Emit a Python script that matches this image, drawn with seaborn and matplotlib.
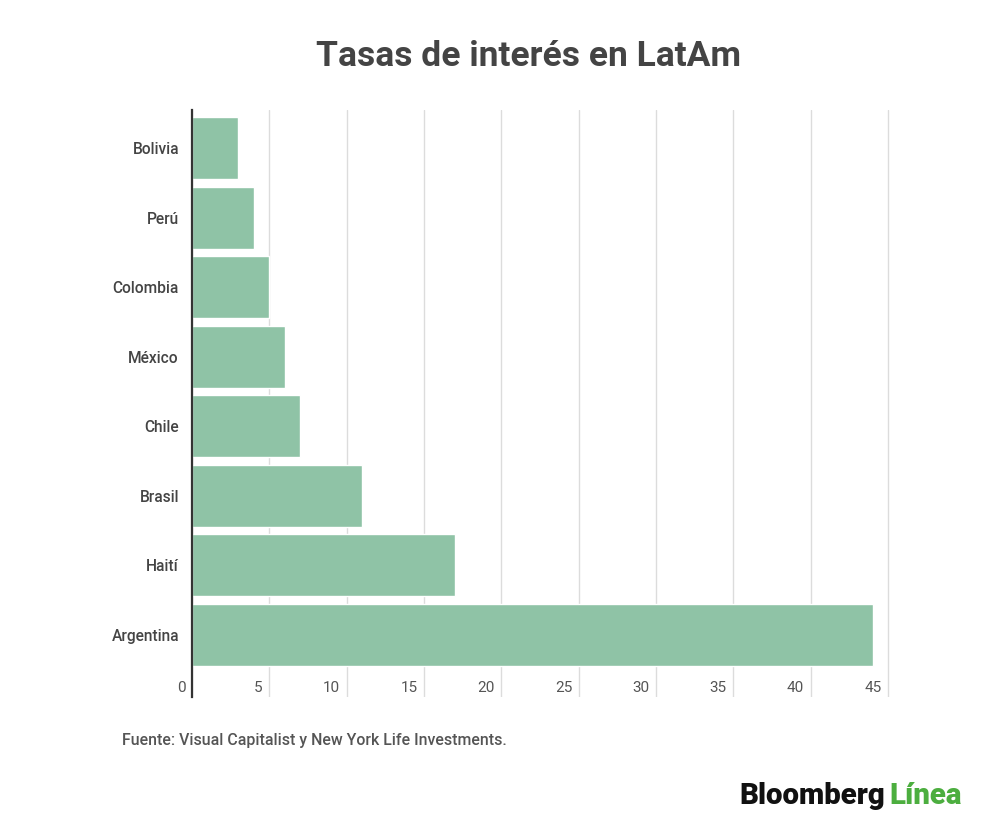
import matplotlib.pyplot as plt
import matplotlib.transforms as mtransforms
import seaborn as sns
import pandas as pd

# tasas de interés (%) por país
paises = ['Bolivia', 'Perú', 'Colombia', 'México', 'Chile', 'Brasil', 'Haití', 'Argentina']
tasas = [3, 4, 5, 6, 7, 11, 17, 44]
ticks_x = [0, 5, 10, 15, 20, 25, 30, 35, 40, 45]

titulo = 'Tasas de interés en LatAm'
fuente = 'Fuente: Visual Capitalist y New York Life Investments.'

df = pd.DataFrame({'pais': paises, 'tasa': tasas})

sns.set_style('white')
plt.rcParams['font.family'] = ['Roboto', 'DejaVu Sans']

fig = plt.figure(figsize=(10, 8.32), dpi=100)
ax = fig.add_axes([0.192, 1 - 697 / 832, 0.890 - 0.192, (697 - 110) / 832])

sns.barplot(data=df, x='tasa', y='pais', orient='h', color='#8fc3a6',
            width=0.892, saturation=1, ax=ax, zorder=2)

ax.set_xlim(0, 45.13)
ax.set_ylim(7.899, -0.551)
ax.set_xlabel('')
ax.set_ylabel('')

ax.set_xticks(ticks_x)
ax.set_xticklabels([str(t) for t in ticks_x])
ax.grid(axis='x', color='#dcdcdc', linewidth=1, zorder=0)
ax.set_axisbelow(True)

for s in ['top', 'right', 'bottom']:
    ax.spines[s].set_visible(False)
ax.spines['left'].set_color('#333333')
ax.spines['left'].set_linewidth(1.6)
ax.spines['left'].set_zorder(3)

ax.tick_params(axis='y', length=0, pad=9.4, labelsize=11.2, labelcolor='#444444')
ax.tick_params(axis='x', length=0, pad=0, labelsize=11, labelcolor='#555555')
for lab in ax.get_yticklabels():
    lab.set_fontweight('medium')

# etiquetas del eje x a la izquierda de cada línea de la rejilla, dentro del borde
shift = mtransforms.ScaledTranslation(-0.065, 0.165, fig.dpi_scale_trans)
for lab in ax.get_xticklabels():
    lab.set_horizontalalignment('right')
    lab.set_transform(lab.get_transform() + shift)

fig.text(0.529, 1 - 57 / 832, titulo, ha='center', va='center',
         fontsize=25.5, fontweight='bold', color='#444444')
fig.text(0.122, 1 - 740 / 832, fuente, ha='left', va='center',
         fontsize=11.45, color='#555555', fontweight='medium')

# logo
t1 = fig.text(0.739, 1 - 804 / 832, 'Bloomberg', ha='left', va='baseline',
              fontsize=21.2, fontweight='heavy', color='#111111')
fig.canvas.draw()
bb = t1.get_window_extent()
x2 = (bb.x1 + 5) / fig.bbox.width
fig.text(x2, 1 - 804 / 832, 'Línea', ha='left', va='baseline',
         fontsize=21.2, fontweight='heavy', color='#4cae3f')

fig.savefig('out.png', dpi=100)
